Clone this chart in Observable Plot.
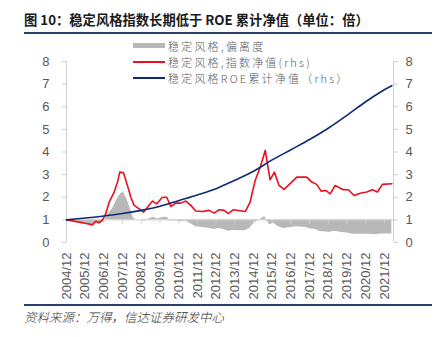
<!DOCTYPE html>
<html><head><meta charset="utf-8">
<script src="https://cdn.jsdelivr.net/npm/d3@7"></script>
<script src="https://cdn.jsdelivr.net/npm/@observablehq/plot@0.6"></script>
<style>
body{margin:0;background:#fff;}
#wrap{position:relative;width:439px;height:337px;overflow:hidden;font-family:"Noto Sans CJK SC",sans-serif;}
#title{position:absolute;left:24px;top:10px;font-size:13.3px;font-weight:bold;color:#1a1a1a;white-space:nowrap;line-height:20px;}
.hr{position:absolute;left:24px;width:408px;height:2px;background:#2b3f6c;}
#src{position:absolute;left:24px;top:308px;font-size:12.5px;font-style:italic;color:#333;white-space:nowrap;line-height:18px;font-weight:300;}
#legend{position:absolute;left:133px;top:0;font-size:11px;color:#595959;font-weight:300;letter-spacing:2.2px;}
.row{position:absolute;left:0;height:0;white-space:nowrap;}
.sw{position:absolute;left:0;width:32px;}
.lt{position:absolute;left:35px;top:-8px;line-height:16px;}
#chart{position:absolute;left:0;top:0;}
</style></head>
<body>
<div id="wrap">
  <div id="chart"></div>
  <div id="title">图 10：稳定风格指数长期低于 ROE 累计净值（单位：倍）</div>
  <div class="hr" style="top:32px"></div>
  <div id="legend"></div>
  <div class="hr" style="top:304px"></div>
  <div id="src">资料来源：万得，信达证券研发中心</div>
</div>
<script>
// ---- data (decimal years) ----
const seriesNames = ["稳定风格,偏离度", "稳定风格,指数净值(rhs)", "稳定风格ROE累计净值（rhs）"];
const seriesColors = ["#b8b8b8", "#e8101e", "#0c2a78"];

const xTickLabels = ["2004/12","2005/12","2006/12","2007/12","2008/12","2009/12","2010/12","2011/12","2012/12","2013/12","2014/12","2015/12","2016/12","2017/12","2018/12","2019/12","2020/12","2021/12"];
const xTicks = [2004.92,2005.92,2006.92,2007.92,2008.92,2009.92,2010.92,2011.92,2012.92,2013.92,2014.92,2015.92,2016.92,2017.92,2018.92,2019.92,2020.92,2021.92];
const yTicks = [0,1,2,3,4,5,6,7,8];

const redT = [2004.92,2005.60,2006.04,2006.31,2006.49,2006.67,2006.85,2007.02,2007.20,2007.47,2007.65,2007.77,2007.97,2008.18,2008.36,2008.54,2008.81,2009.04,2009.25,2009.52,2009.75,2010.05,2010.28,2010.50,2010.76,2011.03,2011.30,2011.57,2011.83,2012.19,2012.55,2012.82,2013.09,2013.35,2013.57,2013.85,2014.48,2014.74,2015.01,2015.28,2015.55,2015.81,2016.04,2016.29,2016.56,2016.88,2017.24,2017.77,2018.04,2018.30,2018.54,2018.79,2019.02,2019.29,2019.73,2020.00,2020.30,2020.63,2020.98,2021.28,2021.55,2021.82,2022.32];
const redV = [1.00,0.90,0.83,0.78,0.94,0.88,1.00,1.27,1.78,2.23,2.67,3.11,3.08,2.52,2.00,1.64,1.49,1.34,1.56,1.83,1.71,2.00,2.00,1.59,1.74,1.74,1.83,1.64,1.39,1.37,1.42,1.30,1.45,1.42,1.28,1.45,1.37,1.78,2.74,3.33,4.07,2.77,3.11,2.52,2.35,2.60,2.89,2.89,2.67,2.57,2.27,2.30,2.15,2.52,2.33,2.33,2.08,2.18,2.23,2.33,2.23,2.57,2.60];

const blueT = [2004.92,2005.92,2006.92,2007.92,2008.92,2009.92,2010.92,2011.92,2012.92,2013.92,2014.92,2015.92,2016.92,2017.92,2018.92,2019.92,2020.92,2021.92,2022.32];
const blueV = [1.00,1.08,1.17,1.28,1.42,1.60,1.85,2.10,2.38,2.75,3.15,3.65,4.10,4.55,5.05,5.62,6.22,6.75,6.93];

const grayT = [2004.92,2005.3,2005.6,2005.9,2006.1,2006.3,2006.48,2006.65,2006.85,2007.0,2007.2,2007.38,2007.65,2007.82,2007.97,2008.18,2008.36,2008.49,2008.66,2008.9,2009.1,2009.3,2009.55,2009.8,2010.1,2010.3,2010.5,2010.8,2011.05,2011.3,2011.57,2011.83,2012.2,2012.55,2012.8,2013.07,2013.34,2013.55,2013.8,2014.45,2014.72,2014.98,2015.25,2015.52,2015.65,2015.79,2016.0,2016.26,2016.52,2016.84,2017.2,2017.72,2017.99,2018.25,2018.48,2018.73,2018.96,2019.22,2019.66,2019.93,2020.23,2020.55,2020.9,2021.2,2021.46,2021.73,2022.32];
const grayV = [1.00,0.97,0.90,0.86,0.80,0.74,0.85,0.79,0.88,1.05,1.30,1.49,1.93,2.15,2.23,1.86,1.42,1.09,1.00,1.00,0.94,1.03,1.12,1.04,1.12,1.10,0.95,0.96,0.92,0.95,0.83,0.70,0.66,0.63,0.57,0.62,0.58,0.50,0.53,0.52,0.62,0.88,1.00,1.15,0.95,0.78,0.85,0.70,0.62,0.65,0.70,0.66,0.60,0.57,0.48,0.48,0.44,0.50,0.44,0.42,0.37,0.37,0.36,0.37,0.34,0.38,0.38];

const red = redT.map((t,i)=>({t, v:redV[i]}));
const blue = blueT.map((t,i)=>({t, v:blueV[i]}));
const gray = grayT.map((t,i)=>({t, v:grayV[i]}));

const xDomain = [2004.92, 2022.41];
const axisGray = "#d0d0d0";
const textGray = "#595959";

const chart = Plot.plot({
  width: 439, height: 337,
  marginLeft: 66, marginRight: 46, marginTop: 61, marginBottom: 95,
  x: {domain: xDomain},
  y: {domain: [0, 8]},
  style: {background: "transparent", fontFamily: "'Liberation Sans', Arial, sans-serif"},
  marks: [
    Plot.areaY(gray, {x: "t", y1: () => 1, y2: "v", fill: seriesColors[0]}),
    Plot.ruleY([1], {stroke: axisGray}),
    Plot.ruleX(xTicks, {x: d => d, y1: 1, y2: 0.83, stroke: axisGray}),
    Plot.ruleX([xDomain[0]], {stroke: axisGray}),
    Plot.ruleX([xDomain[1]], {stroke: axisGray}),
    Plot.line(red, {x: "t", y: "v", stroke: seriesColors[1], strokeWidth: 1.6}),
    Plot.line(blue, {x: "t", y: "v", stroke: seriesColors[2], strokeWidth: 1.6, curve: "catmull-rom"}),
    Plot.axisY({anchor: "left", ticks: yTicks, tickSize: 4, tickPadding: 13, stroke: axisGray, fill: textGray, fontSize: 13, label: null}),
    Plot.axisY({anchor: "right", ticks: yTicks, tickSize: 4, tickPadding: 8, stroke: axisGray, fill: textGray, fontSize: 13, label: null}),
    Plot.axisX({anchor: "bottom", ticks: xTicks, tickFormat: d => xTickLabels[xTicks.indexOf(d)], tickRotate: -90, tickSize: 0, tickPadding: 10, fill: textGray, fontSize: 13, label: null})
  ]
});
document.getElementById("chart").appendChild(chart);

// legend
const legend = document.getElementById("legend");
const rowsY = [45.5, 61.5, 77.5];
seriesNames.forEach((name, i) => {
  const row = document.createElement("div");
  row.className = "row";
  row.style.top = rowsY[i] + "px";
  const sw = document.createElement("div");
  sw.className = "sw";
  if (i === 0) { sw.style.top = "-2.5px"; sw.style.height = "5px"; }
  else { sw.style.top = "-1px"; sw.style.height = "2px"; }
  sw.style.background = seriesColors[i];
  const lt = document.createElement("div");
  lt.className = "lt";
  lt.textContent = name;
  row.appendChild(sw); row.appendChild(lt);
  legend.appendChild(row);
});
</script>
</body></html>
